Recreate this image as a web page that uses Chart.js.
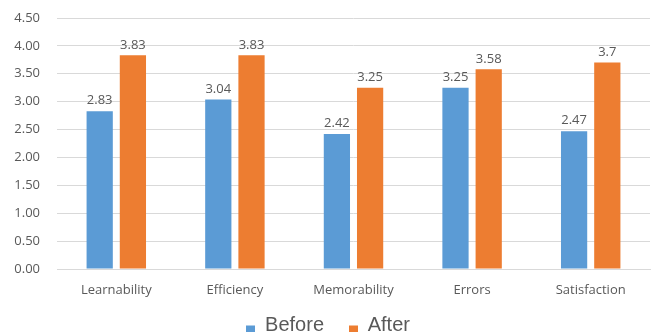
<!DOCTYPE html>
<html>
<head>
<meta charset="utf-8">
<script src="https://cdn.jsdelivr.net/npm/chart.js@4/dist/chart.umd.min.js"></script>
<style>
  html, body { margin: 0; padding: 0; background: #fff; }
  #wrap { width: 652px; height: 332px; }
</style>
</head>
<body>
<div id="wrap"><canvas id="usabilityChart"></canvas></div>
<script>
// chart data
const categories = ['Learnability', 'Efficiency', 'Memorability', 'Errors', 'Satisfaction'];
const beforeValues = [2.83, 3.04, 2.42, 3.25, 2.47];
const afterValues = [3.83, 3.83, 3.25, 3.58, 3.7];
const beforeLabels = ['2.83', '3.04', '2.42', '3.25', '2.47'];
const afterLabels = ['3.83', '3.83', '3.25', '3.58', '3.7'];

const blue = '#5B9BD5';
const orange = '#ED7D31';
const textGray = '#595959';
const fontFamily = "'Open Sans', 'DejaVu Sans', sans-serif";

// small legend marker sitting low, next to the text baseline
function makeMarker(color) {
    const c = document.createElement('canvas');
    c.width = 9;
    c.height = 18;
    const g = c.getContext('2d');
    g.fillStyle = color;
    g.fillRect(0, 9, 9, 9);
    return c;
}

// draws the value above each bar
const valueLabels = {
    id: 'valueLabels',
    afterDatasetsDraw(chart) {
        const ctx = chart.ctx;
        ctx.save();
        ctx.font = '13px ' + fontFamily;
        ctx.fillStyle = textGray;
        ctx.textAlign = 'center';
        ctx.textBaseline = 'bottom';
        chart.data.datasets.forEach((ds, i) => {
            const meta = chart.getDatasetMeta(i);
            meta.data.forEach((bar, j) => {
                ctx.fillText(ds.valueText[j], bar.x, bar.y - 4);
            });
        });
        ctx.restore();
    }
};

// pull the legend a bit lower and to the right, like the original
const legendShift = {
    id: 'legendShift',
    afterInit(chart) {
        const lg = chart.legend;
        if (!lg) return;
        const origFit = lg.fit;
        lg.fit = function () {
            origFit.call(this);
            this.height -= 13.5;
        };
        const origDraw = lg.draw;
        lg.draw = function () {
            this.left += 3;
            this.right += 3;
            origDraw.call(this);
            this.left -= 3;
            this.right -= 3;
        };
    }
};

const ctx = document.getElementById('usabilityChart').getContext('2d');
new Chart(ctx, {
    type: 'bar',
    data: {
        labels: categories,
        datasets: [{
            label: 'Before',
            data: beforeValues,
            valueText: beforeLabels,
            backgroundColor: blue,
            barPercentage: 0.79,
            categoryPercentage: 0.56
        }, {
            label: 'After',
            data: afterValues,
            valueText: afterLabels,
            backgroundColor: orange,
            barPercentage: 0.79,
            categoryPercentage: 0.56
        }]
    },
    options: {
        responsive: true,
        maintainAspectRatio: false,
        animation: false,
        layout: {
            padding: { left: 0, right: 2, top: 0, bottom: 0 }
        },
        scales: {
            x: {
                grid: { display: false },
                border: { color: '#D9D9D9' },
                ticks: {
                    color: textGray,
                    font: { family: fontFamily, size: 13 },
                    padding: 5
                },
                afterFit: (axis) => { axis.height = 38.5; }
            },
            y: {
                min: 0,
                max: 4.5,
                border: { display: false },
                grid: { color: '#D9D9D9', drawTicks: false },
                ticks: {
                    stepSize: 0.5,
                    color: textGray,
                    font: { family: fontFamily, size: 13 },
                    padding: 17,
                    callback: (v) => v.toFixed(2)
                },
                afterFit: (axis) => {
                    axis.width = 57;
                    axis.paddingTop = 18;
                    axis.paddingBottom = 0;
                }
            }
        },
        plugins: {
            legend: {
                display: true,
                position: 'bottom',
                labels: {
                    color: textGray,
                    font: { family: "'Liberation Sans', Arial, sans-serif", size: 20 },
                    usePointStyle: true,
                    boxWidth: 9,
                    boxHeight: 9,
                    padding: 8,
                    generateLabels(chart) {
                        const items = Chart.defaults.plugins.legend.labels.generateLabels(chart);
                        items.forEach((item, i) => {
                            item.pointStyle = makeMarker(i === 0 ? blue : orange);
                            if (i === 0) item.text = item.text + '   ';
                        });
                        return items;
                    }
                }
            },
            tooltip: { enabled: false }
        }
    },
    plugins: [valueLabels, legendShift]
});
</script>
</body>
</html>
